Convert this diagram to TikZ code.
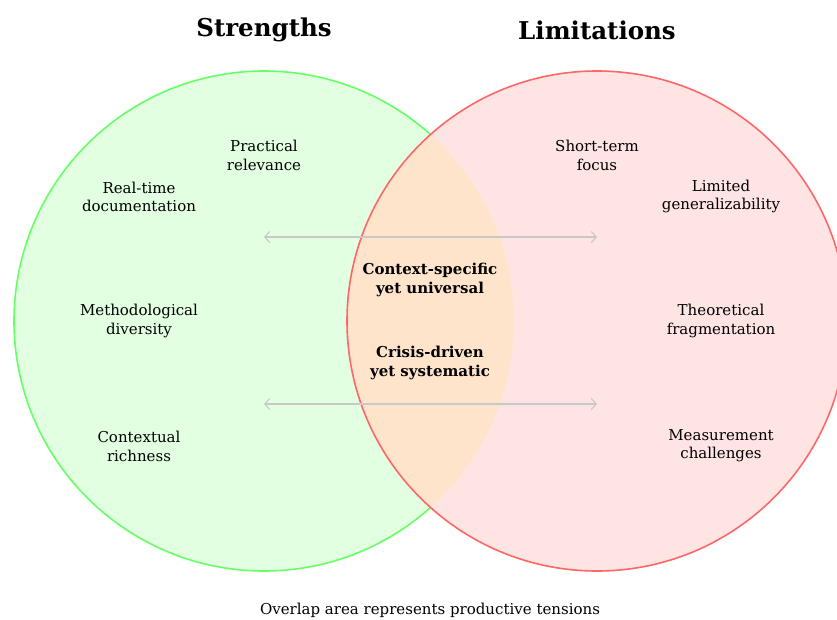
\documentclass[tikz,border=0pt]{standalone}
\usepackage{fontspec}
\setmainfont{DejaVu Serif}
\usetikzlibrary{arrows.meta}
\definecolor{gfill}{RGB}{226,255,226}
\definecolor{gline}{RGB}{102,255,102}
\definecolor{rfill}{RGB}{255,228,228}
\definecolor{rline}{RGB}{255,102,102}
\definecolor{ofill}{RGB}{255,228,204}
\definecolor{aline}{RGB}{200,200,200}
\tikzset{
  lbl/.style={align=center, font=\fontsize{15}{18.5}\selectfont, inner sep=0pt},
  mid/.style={align=center, font=\fontsize{15}{18.5}\selectfont\bfseries, inner sep=0pt},
  ttl/.style={font=\fontsize{24.5}{28}\selectfont\bfseries, inner sep=0pt},
  tarrow/.style={draw=aline, line width=1.1pt, {Straight Barb[length=5pt,width=11pt]}-{Straight Barb[length=5pt,width=11pt]}}
}
\begin{document}
\begin{tikzpicture}[x=1pt,y=-1pt]
\useasboundingbox (0,0) rectangle (837,619);
% circles
\fill[gfill] (264,321) circle (250);
\draw[gline, line width=1.6pt] (264,321) circle (250);
\fill[rfill] (597,321) circle (250);
\begin{scope}
  \clip (264,321) circle (250);
  \fill[ofill] (597,321) circle (250);
\end{scope}
\draw[rline, line width=1.6pt] (597,321) circle (250);
% titles
\node[ttl] (ts) at (264,29.5) {Strengths};
\node[ttl] (tl) at (597,30) {Limitations};
% strengths
\node[lbl] (s1) at (264,155.5) {Practical\\relevance};
\node[lbl] (s2) at (139,197) {Real-time\\documentation};
\node[lbl] (s3) at (139,321) {Methodological\\diversity};
\node[lbl] (s4) at (139,446.5) {Contextual\\richness};
% limitations
\node[lbl] (l1) at (597,155.5) {Short-term\\focus};
\node[lbl] (l2) at (721,196.5) {Limited\\generalizability};
\node[lbl] (l3) at (721,321) {Theoretical\\fragmentation};
\node[lbl] (l4) at (721,445.5) {Measurement\\challenges};
% overlap
\node[mid] (m1) at (430,280) {Context-specific\\yet universal};
\node[mid] (m2) at (430,363) {Crisis-driven\\yet systematic};
% tension arrows
\coordinate (a1l) at (264,237);
\coordinate (a1r) at (597,237);
\coordinate (a2l) at (264,404);
\coordinate (a2r) at (597,404);
\draw[tarrow] (a1l) -- (a1r);
\draw[tarrow] (a2l) -- (a2r);
% caption
\node[lbl] (cap) at (430,610) {Overlap area represents productive tensions};
\end{tikzpicture}
\end{document}
